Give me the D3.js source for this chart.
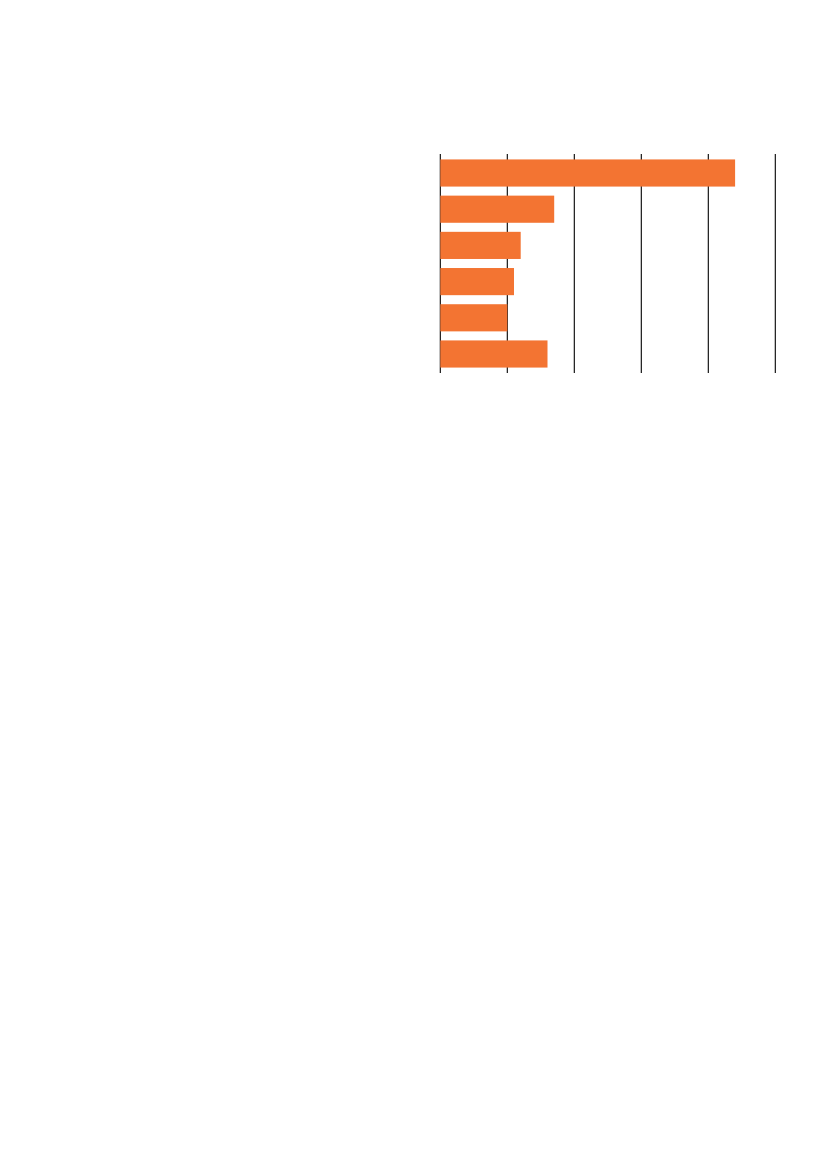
<!DOCTYPE html>
<html>
<head>
<meta charset="utf-8">
<script src="https://cdn.jsdelivr.net/npm/d3@7"></script>
<style>
  html, body { margin: 0; padding: 0; background: #fff; }
  svg { display: block; }
</style>
</head>
<body>
<svg id="chart"></svg>
<script>
// bar data, top to bottom (no labels shown on the chart)
const categories = ["c1", "c2", "c3", "c4", "c5", "c6"];
const values = [4.4, 1.7, 1.2, 1.1, 1.0, 1.6];
const tickValues = [0, 1, 2, 3, 4, 5];

const config = {
  width: 827,
  height: 1169,
  margin: { top: 154, left: 440, right: 52 },
  plotHeight: 219
};

const svg = d3.select("#chart")
  .attr("width", config.width)
  .attr("height", config.height);

const x = d3.scaleLinear()
  .domain([0, 5])
  .range([config.margin.left + 0.3, config.width - config.margin.right + 0.3]);

const y = d3.scaleBand()
  .domain(categories)
  .range([config.margin.top, config.margin.top + config.plotHeight])
  .paddingInner(0.25)
  .paddingOuter(0.15);

// vertical grid lines behind the bars
svg.append("g")
  .selectAll("line")
  .data(tickValues)
  .join("line")
    .attr("x1", d => x(d))
    .attr("x2", d => x(d))
    .attr("y1", config.margin.top)
    .attr("y2", config.margin.top + config.plotHeight)
    .attr("stroke", "#000")
    .attr("stroke-width", 1.1);

svg.append("g")
  .selectAll("rect")
  .data(values)
  .join("rect")
    .attr("x", x(0))
    .attr("y", (d, i) => y(categories[i]))
    .attr("width", d => x(d) - x(0))
    .attr("height", y.bandwidth())
    .attr("fill", "#f37432");
</script>
</body>
</html>
